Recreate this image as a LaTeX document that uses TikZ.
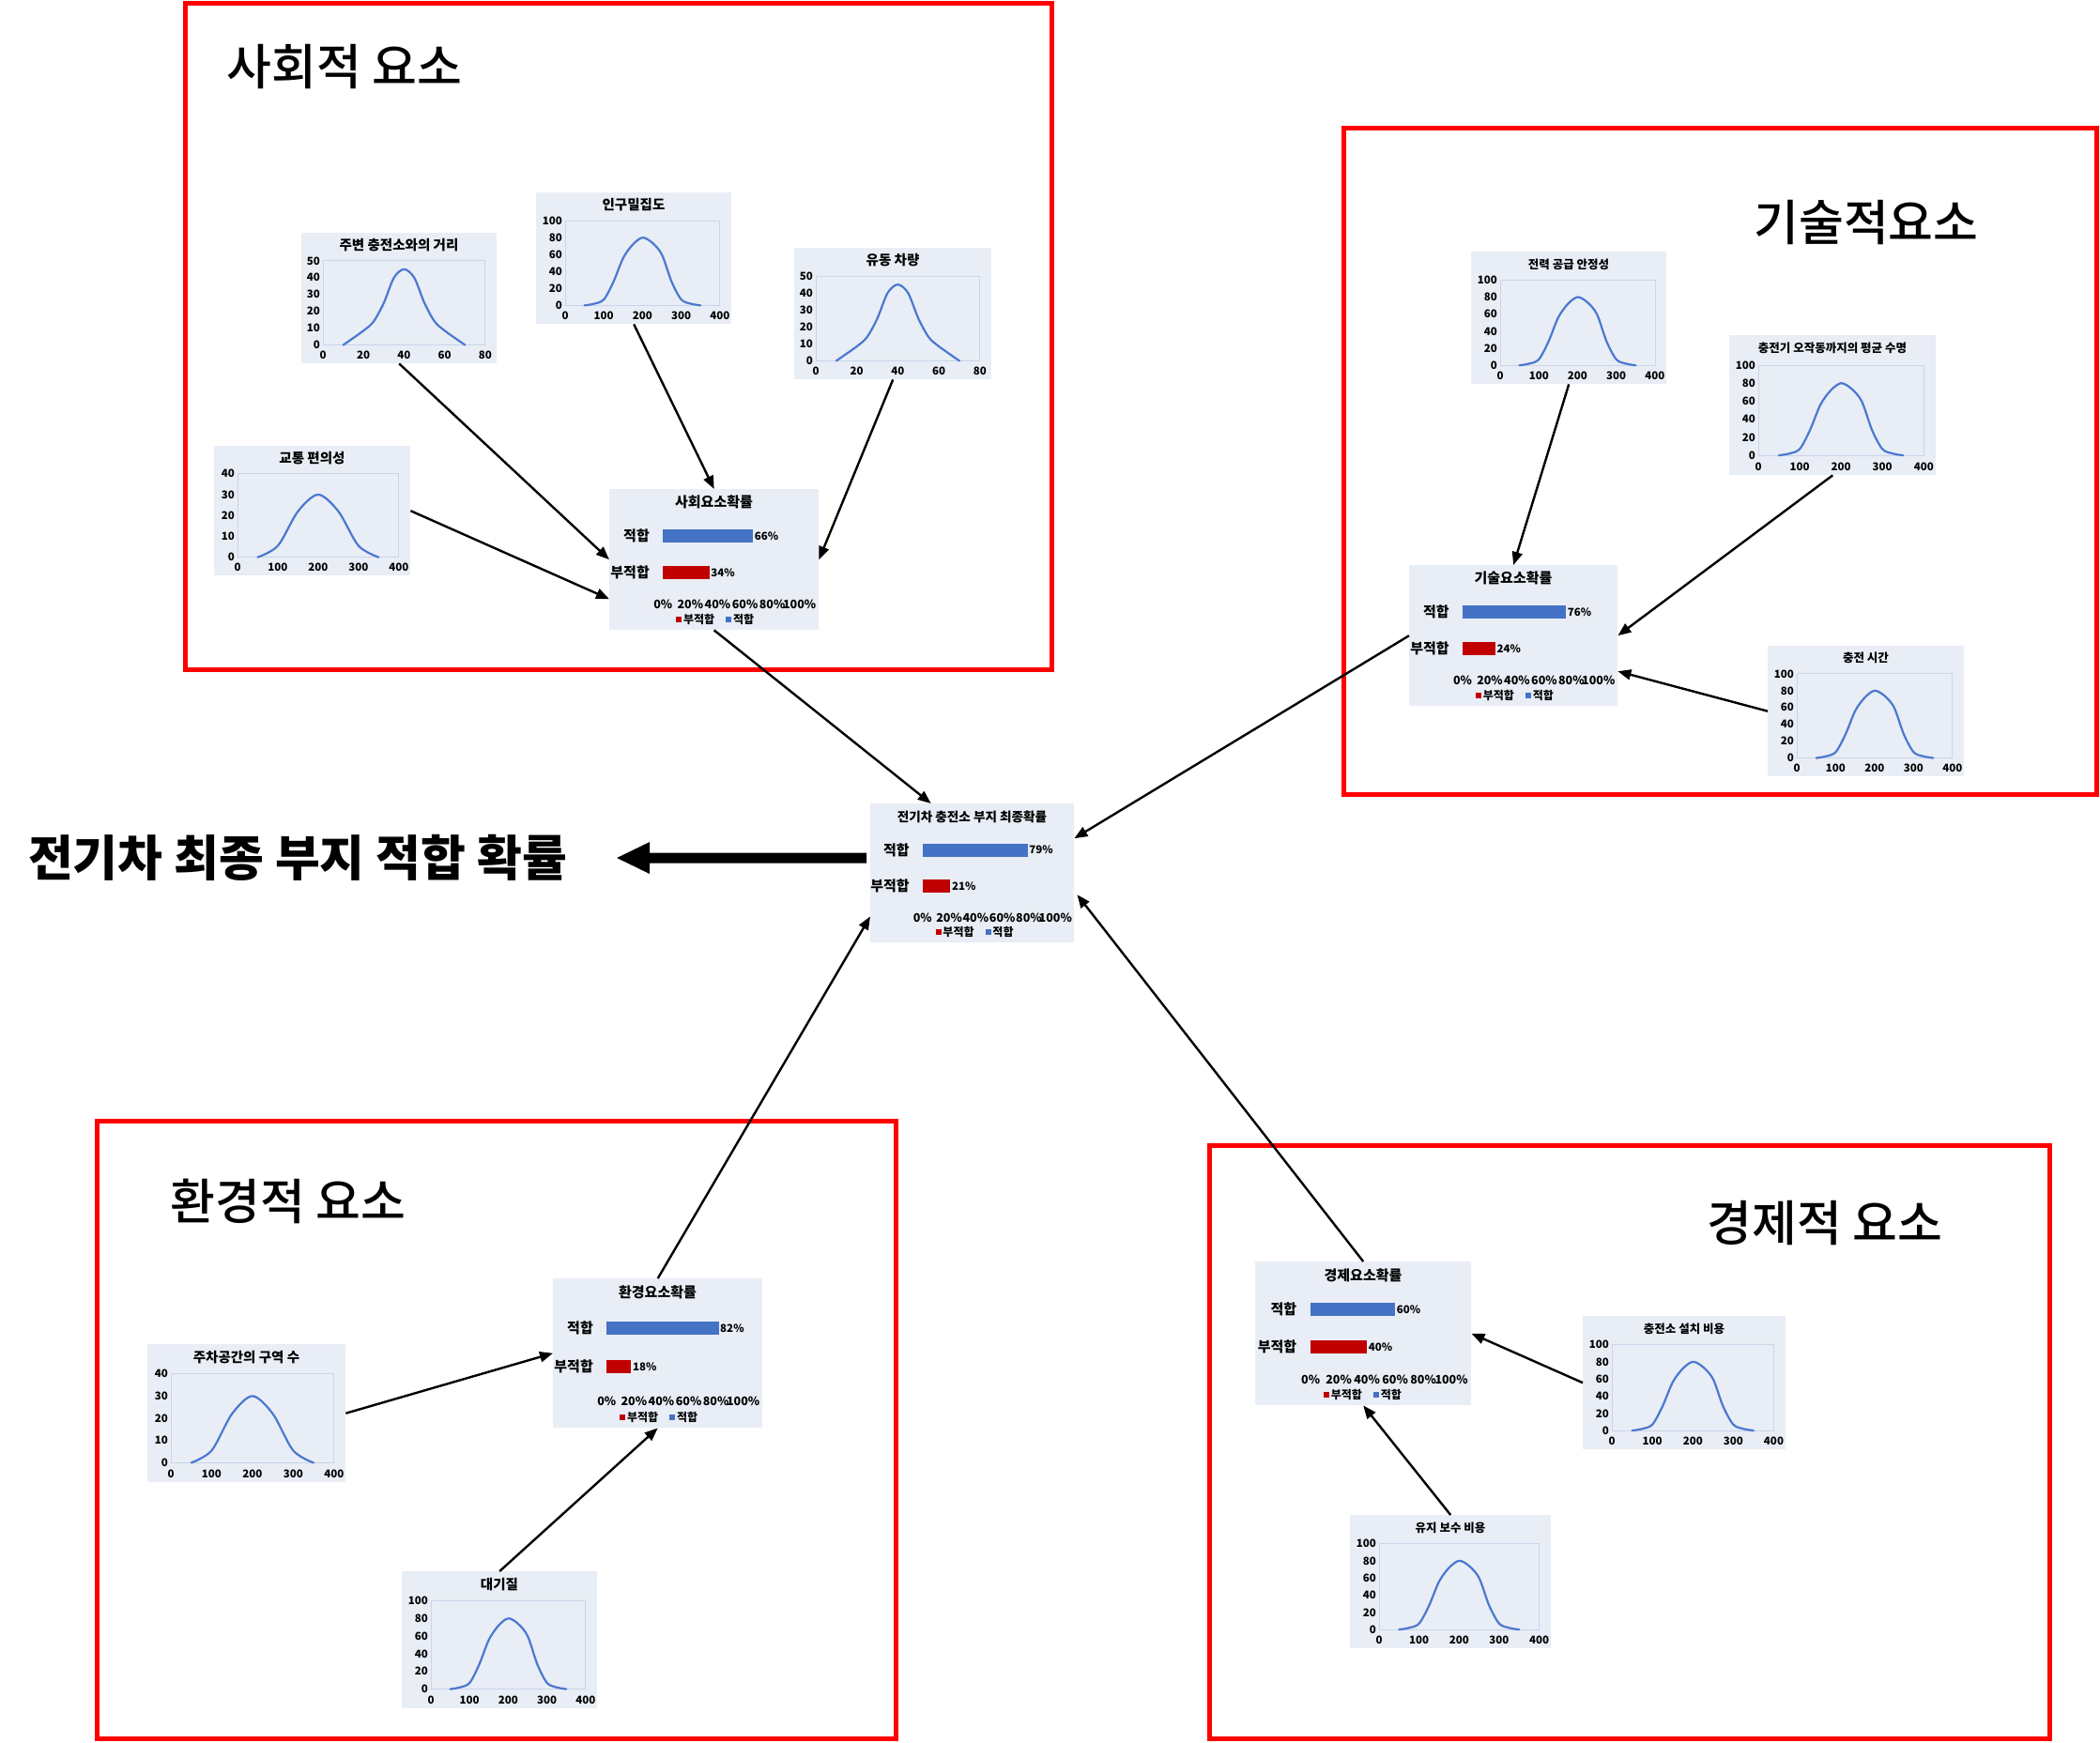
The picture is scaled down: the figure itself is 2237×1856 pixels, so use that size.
\documentclass[tikz,border=0pt]{standalone}
\usepackage{fontspec}
\setmainfont{Noto Sans CJK KR}
\IfFontExistsTF{Noto Sans CJK KR Medium}{\newfontfamily\medfont{Noto Sans CJK KR Medium}}{\newfontfamily\medfont{Noto Sans CJK KR}}
\usetikzlibrary{arrows.meta,calc}
\definecolor{panelbg}{HTML}{E9EDF5}
\definecolor{barblue}{HTML}{4472C4}
\definecolor{barred}{HTML}{C00000}
\definecolor{plotedge}{HTML}{C9D5EA}
\definecolor{chartblue}{HTML}{4A78D0}
\newcommand\fsz[1]{\fontsize{#1}{#1}\selectfont}

% chart kinds
\def\kindAymax{50}\def\kindAylabs{0,10,20,30,40,50}\def\kindAxmax{80}\def\kindAxlabs{0,20,40,60,80}\def\kindAplo{23}
\def\kindAcurve{(10,0) (20,8.5) (25,14) (30,25) (35,40) (40,45) (45,40) (50,25) (55,14) (60,8.5) (70,0)}
\def\kindBymax{100}\def\kindBylabs{0,20,40,60,80,100}\def\kindBxmax{400}\def\kindBxlabs{0,100,200,300,400}\def\kindBplo{31}
\def\kindBcurve{(50,0) (75,2) (100,7) (125,28) (150,56) (175,72) (200,80) (225,74) (250,60) (275,28) (300,7) (325,2) (350,0)}
\def\kindCymax{40}\def\kindCylabs{0,10,20,30,40}\def\kindCxmax{400}\def\kindCxlabs{0,100,200,300,400}\def\kindCplo{25}
\def\kindCcurve{(50,0) (100,5.5) (150,22) (200,30) (250,22) (300,5.5) (350,0)}

\def\drawchartcurve#1{\draw[chartline] plot[smooth] coordinates {#1};}

% #1 name #2 L #3 T #4 W #5 H #6 title #7 kind #8 title size
\newcommand\chartpanel[8]{%
  \node[panel, minimum width=#4pt, minimum height=#5pt, anchor=north west] (#1) at (#2,#3) {};
  \begin{scope}[shift={(#2,#3)}]
    \edef\plo{\csname kind#7plo\endcsname}
    \edef\ymx{\csname kind#7ymax\endcsname}
    \edef\xmx{\csname kind#7xmax\endcsname}
    \edef\ylabs{\csname kind#7ylabs\endcsname}
    \edef\xlabs{\csname kind#7xlabs\endcsname}
    \edef\crv{\csname kind#7curve\endcsname}
    \pgfmathsetmacro\pr{#4-0.058*#4}
    \pgfmathsetmacro\ptp{0.215*#5}
    \pgfmathsetmacro\pbt{0.86*#5}
    \pgfmathsetmacro\sx{(\pr-\plo)/\xmx}
    \pgfmathsetmacro\sy{-(\pbt-\ptp)/\ymx}
    \node[font=\fsz{#8}\bfseries, inner sep=0pt] at ({#4/2},{0.095*#5}) {#6};
    \draw[plotedge, line width=0.9pt] (\plo,\ptp) rectangle (\pr,\pbt);
    \foreach \val in \ylabs {
      \node[axlab, anchor=east] at ({\plo-3},{\pbt-(\val/\ymx)*(\pbt-\ptp)}) {\val};
    }
    \foreach \val in \xlabs {
      \node[axlab] at ({\plo+(\val/\xmx)*(\pr-\plo)},{0.94*#5}) {\val};
    }
    \begin{scope}[shift={(\plo,\pbt)}, xscale=\sx, yscale=\sy]
      \expandafter\drawchartcurve\expandafter{\crv}
    \end{scope}
  \end{scope}}

% #1 name #2 L #3 T #4 W #5 H #6 title #7 good #8 bad #9 title size
\newcommand\barpanel[9]{%
  \node[panel, minimum width=#4pt, minimum height=#5pt, anchor=north west] (#1) at (#2,#3) {};
  \begin{scope}[shift={(#2,#3)}]
    \pgfmathsetmacro\zx{0.257*#4}
    \pgfmathsetmacro\fw{0.652*#4}
    \pgfmathsetmacro\ya{0.335*#5}
    \pgfmathsetmacro\yb{0.593*#5}
    \pgfmathsetmacro\yl{0.82*#5}
    \pgfmathsetmacro\yg{0.928*#5}
    \node[font=\fsz{#9}\bfseries, inner sep=0pt] at ({#4/2},{0.095*#5}) {#6};
    \node[catlab, anchor=east] at ({0.193*#4},\ya) {적합};
    \node[catlab, anchor=east] at ({0.193*#4},\yb) {부적합};
    \fill[barblue] (\zx,{\ya-7}) rectangle ({\zx+#7/100*\fw},{\ya+7});
    \fill[barred] (\zx,{\yb-7}) rectangle ({\zx+#8/100*\fw},{\yb+7});
    \node[pctlab, anchor=west] at ({\zx+#7/100*\fw+1.5},\ya) {#7\%};
    \node[pctlab, anchor=west] at ({\zx+#8/100*\fw+1.5},\yb) {#8\%};
    \foreach \k/\lab in {0/0,1/20,2/40,3/60,4/80,5/100}
      \node[ticklab] at ({\zx+\k*0.2*\fw},\yl) {\lab\%};
    \fill[barred] ({\zx+14},{\yg-3}) rectangle ++(6,6);
    \node[leglab, anchor=west] at ({\zx+21.5},\yg) {부적합};
    \fill[barblue] ({\zx+67},{\yg-3}) rectangle ++(6,6);
    \node[leglab, anchor=west] at ({\zx+74.5},\yg) {적합};
  \end{scope}}

\tikzset{
  panel/.style={fill=panelbg, draw=none, inner sep=0pt},
  axlab/.style={font=\fsz{11.5}\bfseries, inner sep=0pt},
  catlab/.style={font=\fsz{15}\bfseries, inner sep=0pt},
  pctlab/.style={font=\fsz{11.5}\bfseries, inner sep=0pt},
  ticklab/.style={font=\fsz{12.5}\bfseries, inner sep=0pt},
  leglab/.style={font=\fsz{12}\bfseries, inner sep=0pt},
  chartline/.style={chartblue, line width=2.2pt, line cap=round, line join=round},
  groupframe/.style={draw=red, line width=5pt},
  grouptitle/.style={font=\fsz{52}\medfont, inner sep=0pt},
  conn/.style={line width=2.4pt, -{Triangle[length=14pt,width=11pt]}},
  bigarrow/.style={line width=11pt, -{Triangle[length=36pt,width=31pt]}},
}

\begin{document}
\begin{tikzpicture}[x=1pt, y=-1pt]
\useasboundingbox (0,0) rectangle (2237,1856);
\fill[white] (0,0) rectangle (2237,1856);

% group frames
\draw[groupframe] (197,3) rectangle (1120,713);
\draw[groupframe] (1431,136) rectangle (2233,846);
\draw[groupframe] (103,1194) rectangle (954,1852);
\draw[groupframe] (1288,1220) rectangle (2183,1852);

\node[grouptitle] (tSoc) at (367,71) {사회적 요소};
\node[grouptitle] (tTech) at (1988,237) {기술적요소};
\node[grouptitle] (tEnv) at (307,1280) {환경적 요소};
\node[grouptitle] (tEco) at (1944,1303) {경제적 요소};

% social
\chartpanel{dist}{321}{248}{208}{139}{주변 충전소와의 거리}{A}{14.5}
\chartpanel{pop}{571}{205}{208}{140}{인구밀집도}{B}{14.5}
\chartpanel{flow}{846}{264}{210}{140}{유동 차량}{A}{14.5}
\chartpanel{traffic}{228}{475}{209}{138}{교통 편의성}{C}{14.5}
\barpanel{soc}{649}{521}{223}{150}{사회요소확률}{66}{34}{15}

% technical
\chartpanel{pow}{1567}{268}{208}{141}{전력 공급 안정성}{B}{12.5}
\chartpanel{life}{1842}{357}{220}{149}{충전기 오작동까지의 평균 수명}{B}{12.5}
\chartpanel{ctime}{1883}{688}{209}{139}{충전 시간}{B}{12.5}
\barpanel{tech}{1501}{602}{222}{150}{기술요소확률}{76}{24}{15}

% environment
\chartpanel{park}{157}{1432}{211}{147}{주차공간의 구역 수}{C}{14.5}
\chartpanel{air}{428}{1674}{208}{146}{대기질}{B}{14.5}
\barpanel{env}{589}{1362}{223}{159}{환경요소확률}{82}{18}{15}

% economic
\chartpanel{inst}{1686}{1402}{216}{142}{충전소 설치 비용}{B}{12.5}
\chartpanel{maint}{1438}{1614}{214}{142}{유지 보수 비용}{B}{12.5}
\barpanel{eco}{1337}{1344}{230}{153}{경제요소확률}{60}{40}{15}

% final
\barpanel{fin}{927}{856}{217}{148}{전기차 충전소 부지 최종확률}{79}{21}{13.6}
\node[font=\fsz{52}\bfseries, inner sep=0pt] (finalTitle) at (317,914) {전기차 최종 부지 적합 확률};
\coordinate (bigTip) at (656,914);
\draw[bigarrow] ($(fin.west)+(-4,-16)$) -- (bigTip);

% connectors
\draw[conn] (dist.south) -- (soc.west);
\draw[conn] (pop.south) -- (soc.north);
\draw[conn] (flow.south) -- (soc.east);
\draw[conn] (traffic.east) -- ($(soc.west)+(0,42)$);
\draw[conn] (soc.south) -- ($(fin.north)+(-44,0)$);
\draw[conn] (tech.west) -- ($(fin.east)+(0,-37)$);
\draw[conn] (pow.south) -- (tech.north);
\draw[conn] (life.south) -- (tech.east);
\draw[conn] (ctime.west) -- ($(tech.east)+(0,38)$);
\draw[conn] (env.north) -- ($(fin.south west)+(0,-28)$);
\draw[conn] (park.east) -- (env.west);
\draw[conn] (air.north) -- (env.south);
\draw[conn] (eco.north) -- ($(fin.east)+(3,23)$);
\draw[conn] (inst.west) -- (eco.east);
\draw[conn] (maint.north) -- (eco.south);
\end{tikzpicture}
\end{document}
